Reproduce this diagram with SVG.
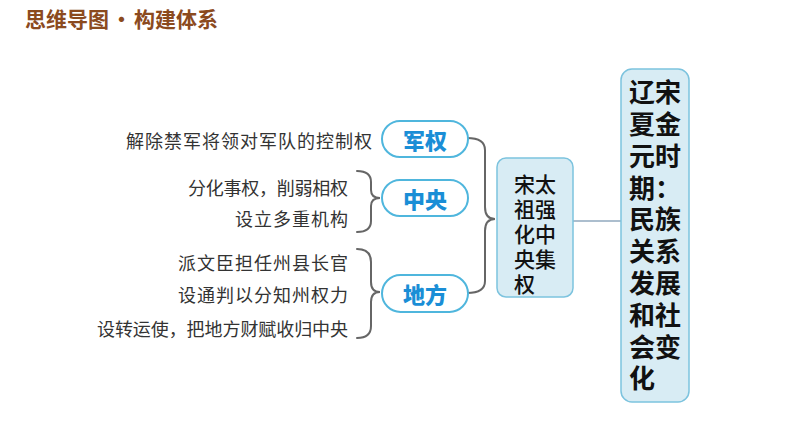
<svg xmlns="http://www.w3.org/2000/svg" width="794" height="447" viewBox="0 0 794 447">
<style>
.title{font-family:"Noto Sans CJK SC","Liberation Sans",sans-serif;font-size:21px;font-weight:700;fill:#8b4a1e}
.leaf{font-family:"Noto Sans CJK SC","Liberation Sans",sans-serif;font-size:18px;fill:#333;letter-spacing:1px}
.pill{fill:#fff;stroke:#4fb6dd;stroke-width:2}
.pilltxt{font-family:"Noto Sans CJK SC","Liberation Sans",sans-serif;font-size:22px;font-weight:900;fill:#1a8ed6}
.box{fill:#d8ecf4;stroke:#7cc3de;stroke-width:1.5}
.ct{font-family:"Liberation Sans","Noto Sans CJK SC",sans-serif;fill:#111;font-size:21px;font-weight:500}
.rt{font-family:"Liberation Sans","Noto Sans CJK SC",sans-serif;fill:#111;font-size:26px;font-weight:700}
.brace{fill:none;stroke:#666;stroke-width:2;stroke-linecap:round}
.link{fill:none;stroke:#5b7f9e;stroke-width:1.2}
</style>
<rect width="794" height="447" fill="#fff"/>
<text class="title" y="27"><tspan x="25">思维导图</tspan><tspan x="111">•</tspan><tspan x="134">构建体系</tspan></text>

<g id="connectors">
<path class="brace" d="M467,138 Q485,138 485,150 L485,207 Q485,219 495,219 Q485,219 485,231 L485,281 Q485,293 467,293"/>
<path class="brace" d="M357,171 Q371,171 371,182 L371,190 Q371,198 380,198 Q371,198 371,206 L371,221 Q371,232 357,232"/>
<path class="brace" d="M357,249 Q371,249 371,262 L371,282 Q371,292 380,292 Q371,292 371,302 L371,326 Q371,338 357,338"/>
<path class="link" d="M573,221 L621,221"/>
</g>

<g id="leaf1"><text class="leaf" x="373" y="140" text-anchor="end" dominant-baseline="central">解除禁军将领对军队的控制权</text></g>
<g id="leaf2"><text class="leaf" x="188" y="187" dominant-baseline="central" style="letter-spacing:0" textLength="160" lengthAdjust="spacing">分化事权，削弱相权</text></g>
<g id="leaf3"><text class="leaf" x="349" y="218" text-anchor="end" dominant-baseline="central">设立多重机构</text></g>
<g id="leaf4"><text class="leaf" x="349" y="262" text-anchor="end" dominant-baseline="central">派文臣担任州县长官</text></g>
<g id="leaf5"><text class="leaf" x="349" y="294" text-anchor="end" dominant-baseline="central">设通判以分知州权力</text></g>
<g id="leaf6"><text class="leaf" x="97" y="328" dominant-baseline="central" style="letter-spacing:0" textLength="251" lengthAdjust="spacing">设转运使，把地方财赋收归中央</text></g>

<g id="junquan"><rect class="pill" x="382" y="121" width="86" height="36" rx="18"/><text class="pilltxt" x="425" y="139" text-anchor="middle" dominant-baseline="central">军权</text></g>
<g id="zhongyang"><rect class="pill" x="382" y="180" width="86" height="36" rx="18"/><text class="pilltxt" x="425" y="198" text-anchor="middle" dominant-baseline="central">中央</text></g>
<g id="difang"><rect class="pill" x="382" y="275" width="86" height="37" rx="18.5"/><text class="pilltxt" x="425" y="293" text-anchor="middle" dominant-baseline="central">地方</text></g>

<g id="center">
<rect class="box" x="497" y="158" width="76" height="139" rx="9"/>
<text class="ct" x="514" y="184" dominant-baseline="central">宋太</text>
<text class="ct" x="514" y="209" dominant-baseline="central">祖强</text>
<text class="ct" x="514" y="234" dominant-baseline="central">化中</text>
<text class="ct" x="514" y="259" dominant-baseline="central">央集</text>
<text class="ct" x="514" y="284" dominant-baseline="central">权</text>
</g>

<g id="root">
<rect class="box" x="621" y="69" width="68" height="333" rx="11"/>
<text class="rt" x="629" y="93" dominant-baseline="central">辽宋</text>
<text class="rt" x="629" y="125" dominant-baseline="central">夏金</text>
<text class="rt" x="629" y="157" dominant-baseline="central">元时</text>
<text class="rt" x="629" y="189" dominant-baseline="central">期：</text>
<text class="rt" x="629" y="220" dominant-baseline="central">民族</text>
<text class="rt" x="629" y="252" dominant-baseline="central">关系</text>
<text class="rt" x="629" y="284" dominant-baseline="central">发展</text>
<text class="rt" x="629" y="316" dominant-baseline="central">和社</text>
<text class="rt" x="629" y="348" dominant-baseline="central">会变</text>
<text class="rt" x="629" y="379" dominant-baseline="central">化</text>
</g>
</svg>
